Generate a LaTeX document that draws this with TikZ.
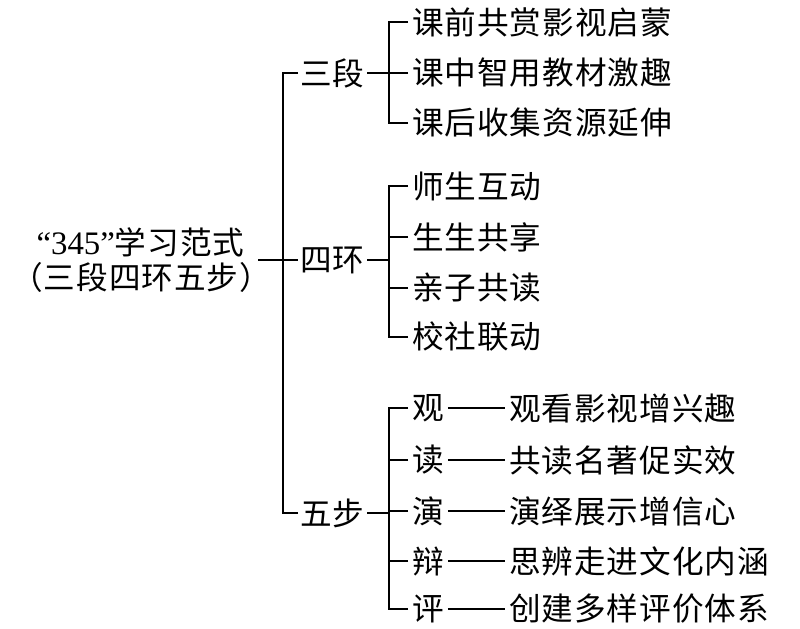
\documentclass[tikz,border=0pt]{standalone}
\usepackage{fontspec}
\setmainfont{Noto Sans CJK SC}
\newfontfamily\numfont{Liberation Serif}
\usetikzlibrary{positioning}
\tikzset{
  rootbox/.style={align=center, inner sep=0pt, outer sep=1pt, font=\fontsize{27pt}{27.3pt}\selectfont\addfontfeature{LetterSpace=3}},
  stagebox/.style={anchor=west, inner sep=0pt, outer sep=2.5pt, font=\fontsize{27pt}{30pt}\selectfont},
  itembox/.style={stagebox, outer sep=3.5pt, font=\fontsize{27pt}{30pt}\selectfont\addfontfeature{LetterSpace=3}},
  branch/.style={line width=1.1pt},
}

\begin{document}
\begin{tikzpicture}[x=0.03cm, y=-0.03cm]
  \useasboundingbox (0,0) rectangle (800,629);

  % root
  \node[rootbox, anchor=east] (root) at (258,260) {{\numfont\fontsize{28pt}{28pt}\selectfont “345”}学习范式\\[2.5pt]\kern-0.4em（三段四环五步）\kern-0.45em};

  % three stages on the trunk
  \node[stagebox] (duan) at (298,73) {三段};
  \node[stagebox] (huan) at (298,260) {四环};
  \node[stagebox] (bu) at (298,513) {五步};
  \coordinate (trunk) at (283,260);
  \draw[branch] (root) -- (huan);
  \draw[branch] (duan.west) -| (trunk);
  \draw[branch] (bu.west) -| (trunk);

  % junctions of the second level
  \coordinate (dj) at (389,73);
  \coordinate (hj) at (389,260);
  \coordinate (bj) at (389,513);
  \draw[branch] (duan) -- (dj);
  \draw[branch] (huan) -- (hj);
  \draw[branch] (bu) -- (bj);

  % 三段
  \foreach \t/\y [count=\i] in {课前共赏影视启蒙/22, 课中智用教材激趣/73, 课后收集资源延伸/123} {
    \node[itembox] (kd\i) at (408,\y) {\t};
    \draw[branch] (kd\i.west) -| (dj);
  }

  % 四环
  \foreach \t/\y [count=\i] in {师生互动/186, 生生共享/237, 亲子共读/288, 校社联动/337} {
    \node[itembox] (hd\i) at (408,\y) {\t};
    \draw[branch] (hd\i.west) -| (hj);
  }

  % 五步
  \foreach \s/\t/\y [count=\i] in {观/观看影视增兴趣/408, 读/共读名著促实效/460, 演/演绎展示增信心/511, 辩/思辨走进文化内涵/561, 评/创建多样评价体系/609} {
    \node[itembox] (bs\i) at (408,\y) {\s};
    \node[itembox] (bd\i) at (505,\y) {\t};
    \draw[branch] (bs\i) -- (bd\i);
    \draw[branch] (bs\i.west) -| (bj);
  }
\end{tikzpicture}
\end{document}
